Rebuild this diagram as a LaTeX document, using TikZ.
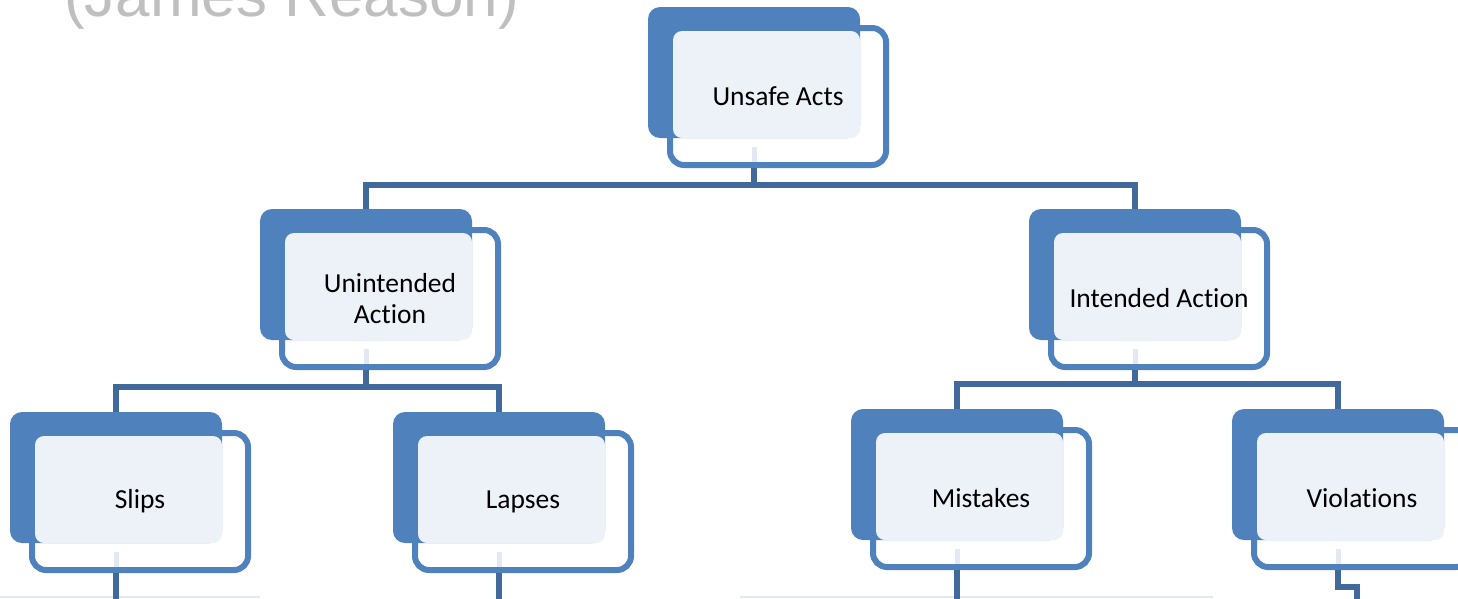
\documentclass[tikz,border=0pt]{standalone}
\usepackage{fontspec}
\setmainfont[Ligatures=NoCommon]{Carlito}
\newfontfamily\titlefont{Liberation Sans}
\definecolor{boxblue}{HTML}{4F81BD}
\definecolor{linkblue}{HTML}{41699C}
\definecolor{paleblue}{HTML}{EDF1F8}
\definecolor{ghostblue}{HTML}{E3E9F3}
\definecolor{titlegray}{HTML}{BFBFBF}
\tikzset{
  backcard/.style={fill=boxblue, rounded corners=12pt},
  framecard/.style={draw=boxblue, line width=6pt, rounded corners=14pt,
    minimum width=216pt, minimum height=137pt, inner sep=0pt},
  facecard/.style={fill=paleblue, rounded corners=9pt},
  cardtext/.style={font=\fontsize{27.5}{31}\selectfont, align=center, inner sep=0pt},
  ghost/.style={draw=ghostblue, line width=5pt},
  conn/.style={draw=linkblue, line width=5.5pt}
}
% #1 name, #2/#3 top-left corner of the back card, #4 label
\newcommand\tierbox[4]{%
  \fill[backcard] (#2,#3) rectangle (#2+212,#3+131);
  \node[framecard] (#1) at (#2+130,#3+89.5) {};
  \fill[facecard] (#2+25,#3+24) rectangle (#2+212,#3+131);
  \draw[ghost] (#2+106,#3+140) -- (#2+106,#3+155);
  \node[cardtext] (#1-text) at (#1.center) {#4};
  \coordinate (#1-top) at (#2+106,#3);
  \coordinate (#1-bot) at (#2+106,#3+161);
}
\begin{document}
\begin{tikzpicture}[x=1pt, y=-1pt]
\useasboundingbox (0,0) rectangle (1458,598);
\clip (0,0) rectangle (1458,598);

% heading, partly above the frame
\node[anchor=base west, inner sep=0pt, text=titlegray,
  font=\titlefont\fontsize{62}{62}\selectfont] (title) at (64,16) {(James Reason)};

% faint tops of the next row
\draw[ghostblue, line width=2pt] (0,597) -- (260,597);
\draw[ghostblue, line width=2pt] (740,597) -- (1213,597);

\tierbox{unsafe}{648}{7}{Unsafe Acts}
\tierbox{unint}{260}{209}{Unintended\\Action}
\tierbox{intend}{1029}{209}{Intended Action}
\tierbox{slips}{10}{412}{Slips}
\tierbox{lapses}{393}{412}{Lapses}
\tierbox{mistakes}{851}{409}{Mistakes}
\tierbox{violations}{1232}{409}{Violations}

% tree connectors
\draw[conn] (unsafe-bot) -- ++(0,17) -| (unint-top);
\draw[conn] (unsafe-bot) -- ++(0,17) -| (intend-top);
\draw[conn] (unint-bot) -- ++(0,17) -| (slips-top);
\draw[conn] (unint-bot) -- ++(0,17) -| (lapses-top);
\draw[conn] (intend-bot) -- ++(0,14) -| (mistakes-top);
\draw[conn] (intend-bot) -- ++(0,14) -| (violations-top);

% links leaving the lowest row
\coordinate (slips-tail) at (116,600);
\coordinate (lapses-tail) at (499,600);
\coordinate (mistakes-tail) at (957,600);
\coordinate (violations-tail) at (1357,600);
\draw[conn] (slips-bot) -- (slips-tail);
\draw[conn] (lapses-bot) -- (lapses-tail);
\draw[conn] (mistakes-bot) -- (mistakes-tail);
\draw[conn] (violations-bot) -- ++(0,17) -| (violations-tail);
\end{tikzpicture}
\end{document}
